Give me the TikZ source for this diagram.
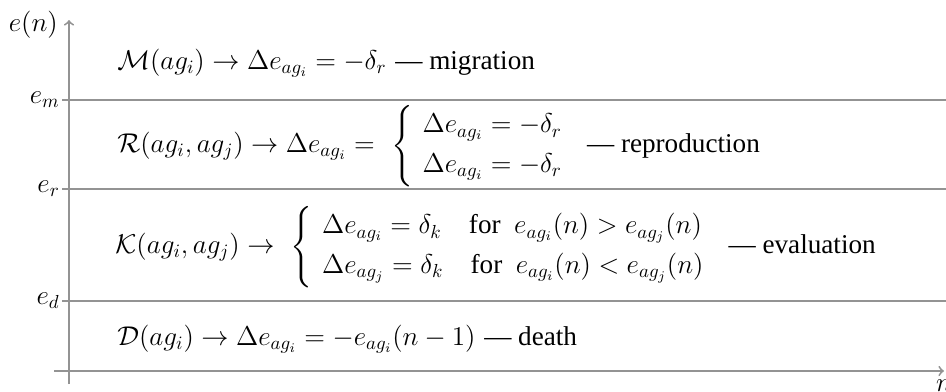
\documentclass[tikz,border=0pt]{standalone}
\usepackage{amsmath}
\usepackage{fontspec}
\newfontfamily\wordfont{Liberation Serif}
\newcommand{\wtext}[1]{\text{\wordfont #1}}

\tikzset{
  axisline/.style={draw=gray!85, line width=1pt},
  levelline/.style={draw=gray!85, line width=1pt},
  rulebox/.style={anchor=west, inner sep=0pt, font=\Large},
  levellabel/.style={anchor=east, inner sep=1pt, font=\Large}
}

\begin{document}
\begin{tikzpicture}[x=0.53pt, y=-0.53pt, >=to, line cap=butt]
  \useasboundingbox (0,0) rectangle (946,391);

  % Axis end points
  \coordinate (Y0) at (69,384);
  \coordinate (Y1) at (69,20);
  \coordinate (X0) at (54,371);
  \coordinate (X1) at (944,371);

  % Level lines
  \coordinate (Em) at (62,100);
  \coordinate (EmEnd) at (946,100);
  \coordinate (Er) at (62,189);
  \coordinate (ErEnd) at (946,189);
  \coordinate (Ed) at (62,301);
  \coordinate (EdEnd) at (946,301);

  \draw[axisline,->] (Y0) -- (Y1);
  \draw[axisline,->] (X0) -- (X1);
  \draw[levelline] (Em) -- (EmEnd);
  \draw[levelline] (Er) -- (ErEnd);
  \draw[levelline] (Ed) -- (EdEnd);

  % Axis labels
  \node[levellabel] (en) at (60,25) {$e(n)$};
  \node[levellabel] (em) at (Em) {$e_m$};
  \node[levellabel] (er) at (Er) {$e_r$};
  \node[levellabel] (ed) at (Ed) {$e_d$};
  \node[below=1pt, font=\Large] (n) at (X1) {$n$};

  % Rules per energy band
  \node[rulebox] (migr) at (117,63)
    {$\mathcal{M}(ag_i) \to \Delta e_{ag_i} = -\delta_r$ \wordfont — migration};
  \node[rulebox] (repr) at (117,146)
    {$\mathcal{R}(ag_i,ag_j) \to \Delta e_{ag_i} = \ 
      \left\{ \begin{array}{l}
        \Delta e_{ag_i} = -\delta_r \\[3pt]
        \Delta e_{ag_i} = -\delta_r
      \end{array} \right.\,$ \wordfont — reproduction};
  \node[rulebox] (eval) at (115,247)
    {$\mathcal{K}(ag_i,ag_j) \to \ 
      \left\{ \begin{array}{l}
        \Delta e_{ag_i} = \delta_k \quad \wtext{for}\enspace e_{ag_i}(n) > e_{ag_j}(n) \\[3pt]
        \Delta e_{ag_j} = \delta_k \quad \wtext{for}\enspace e_{ag_i}(n) < e_{ag_j}(n)
      \end{array} \right.\,$ \wordfont — evaluation};
  \node[rulebox] (death) at (117,339)
    {$\mathcal{D}(ag_i) \to \Delta e_{ag_i} = -e_{ag_i}(n-1)$ \wordfont — death};
\end{tikzpicture}
\end{document}
